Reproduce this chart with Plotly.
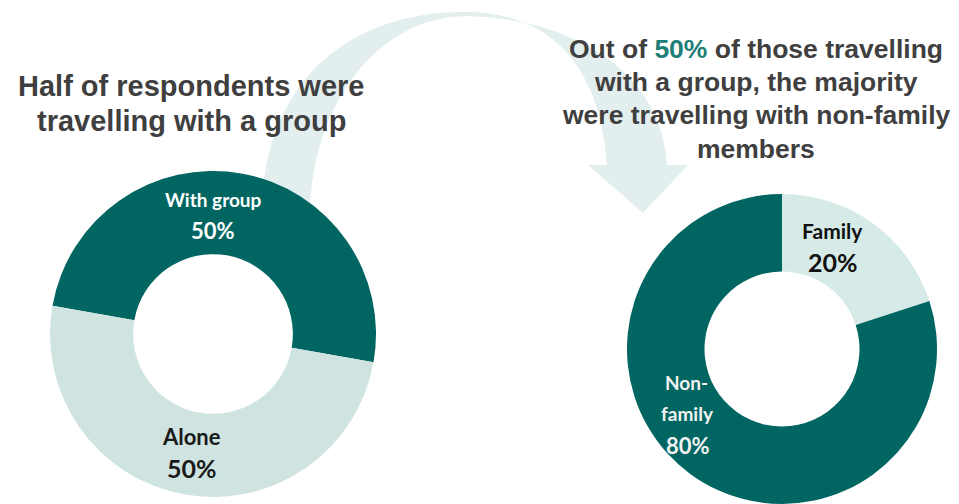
import plotly.graph_objects as go

# ---- data ----
overall_labels = ["With group", "Alone"]
overall_values = [50, 50]
group_labels = ["Family", "Non-family"]
group_values = [20, 80]
left_title = ["Half of respondents were", "travelling with a group"]
right_title = ["Out of {hl} of those travelling", "with a group, the majority",
               "were travelling with non-family", "members"]
highlight = "50%"

# ---- style ----
W, H = 959, 504
OFF = 8  # page body margin offset
DARK = "#016562"
LIGHT_L = "#cfe4e1"
LIGHT_R = "#d6eae7"
ARROW = "#e3eeee"
TITLE_C = "#3f3f3f"
HL_C = "#1f7e78"
LABEL_FONT = "Lato, Open Sans, sans-serif"
TITLE_FONT = "Liberation Sans, Arial, sans-serif"


def px2paper_x(x):
    return (x - OFF) / W


def px2paper_y(y):
    return 1 - (y - OFF) / H


def pie_domain(cx, cy, r):
    return dict(x=[px2paper_x(cx - r), px2paper_x(cx + r)],
                y=[max(0, px2paper_y(cy + r)), min(1, px2paper_y(cy - r))])


fig = go.Figure()

# invisible pixel axes (shifted by the page offset) for the decorative arrow
fig.add_trace(go.Scatter(x=[OFF, W + OFF], y=[OFF, H + OFF], mode="markers",
                         marker=dict(opacity=0), hoverinfo="skip", showlegend=False))

fig.add_trace(go.Pie(
    labels=overall_labels, values=overall_values, sort=False,
    direction="clockwise", rotation=-80, hole=0.49,
    marker=dict(colors=[DARK, LIGHT_L], line=dict(width=0)),
    textinfo="none", showlegend=False,
    domain=pie_domain(213, 334, 163)))

fig.add_trace(go.Pie(
    labels=group_labels, values=group_values, sort=False,
    direction="clockwise", rotation=0, hole=0.5,
    marker=dict(colors=[LIGHT_R, DARK], line=dict(width=0)),
    textinfo="none", showlegend=False,
    domain=pie_domain(782, 349, 155)))

# curved arrow (decoration), page-pixel coordinates
arrow_path = (
    "M 262 215 C 262 90 340 14 460 12 "
    "C 545 10 600 60 607 165 "
    "L 588 165 L 643 213 L 688 165 L 667 165 "
    "C 662 70 570 18 465 16 "
    "C 380 18 312 100 310 215 Z")
fig.add_shape(type="path", path=arrow_path, xref="x", yref="y",
              fillcolor=ARROW, line=dict(width=0), layer="below")

ann = []


def add_text(text, x, y, size, color, family=LABEL_FONT, bold=True):
    ann.append(dict(text=text, x=px2paper_x(x), y=px2paper_y(y), xref="paper", yref="paper",
                    xanchor="center", yanchor="middle", showarrow=False,
                    font=dict(family=family, size=size, color=color,
                              weight="bold" if bold else "normal")))


# titles
add_text(left_title[0], 191, 86, 29, TITLE_C, TITLE_FONT)
add_text(left_title[1], 191, 121, 29, TITLE_C, TITLE_FONT)
rt_y = [48.6, 82, 115.3, 148.6]
for line, yy in zip(right_title, rt_y):
    txt = line.format(hl=f"<span style='color:{HL_C}'>{highlight}</span>")
    add_text(txt, 756, yy, 26.5, TITLE_C, TITLE_FONT)

# slice labels
add_text(overall_labels[0], 213, 199, 19, "white")
add_text(f"{overall_values[0]}%", 213, 230, 22, "white")
add_text(overall_labels[1], 191, 436, 22, "#1a1a1a")
add_text(f"{overall_values[1]}%", 192, 468, 25, "#1a1a1a")
add_text(group_labels[0], 832, 230, 21, "#111111")
add_text(f"{group_values[0]}%", 833, 262, 25, "#111111")
nf = group_labels[1].split("-")
add_text(nf[0] + "-", 686, 382, 19, "#f2f2f2")
add_text(nf[1], 687, 413, 19, "#f2f2f2")
add_text(f"{group_values[1]}%", 688, 445, 22, "#f2f2f2")

fig.update_layout(
    width=W, height=H, autosize=False,
    margin=dict(l=0, r=0, t=0, b=0),
    paper_bgcolor="white", plot_bgcolor="white",
    xaxis=dict(range=[OFF, W + OFF], visible=False, fixedrange=True, domain=[0, 1]),
    yaxis=dict(range=[H + OFF, OFF], visible=False, fixedrange=True, domain=[0, 1]),
    annotations=ann, showlegend=False)

fig.write_html("out.html")
